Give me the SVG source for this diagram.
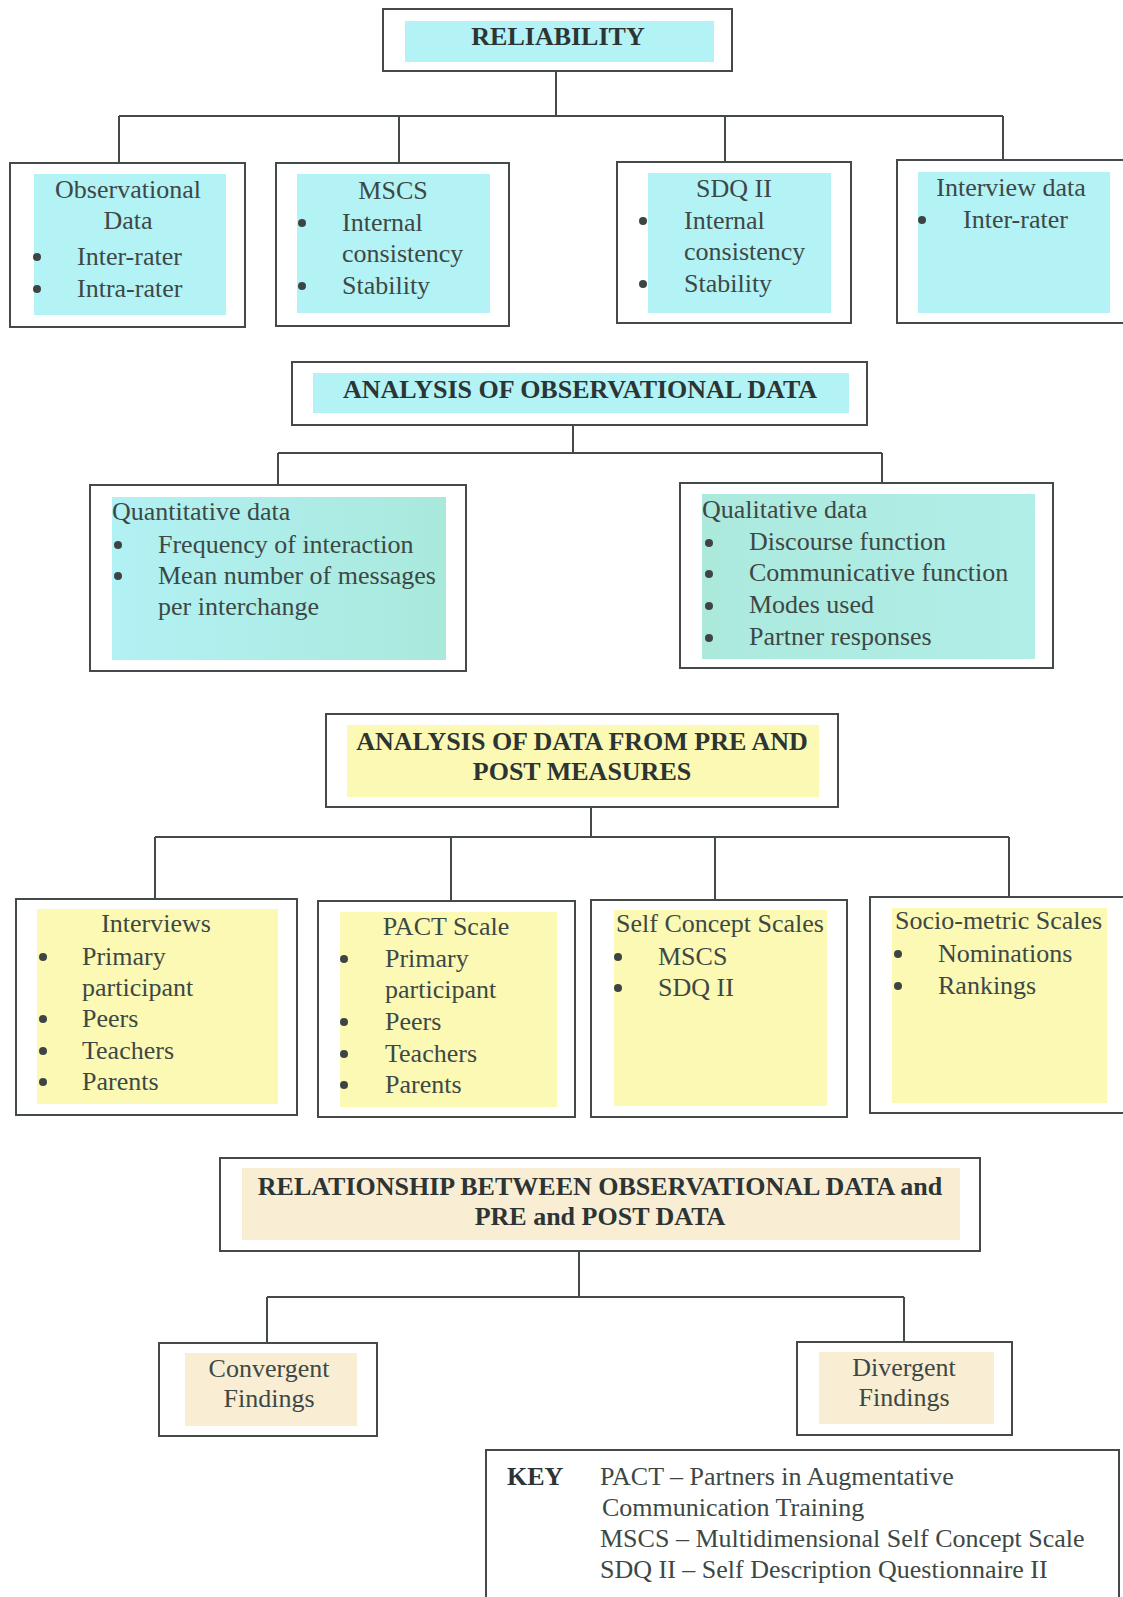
<svg xmlns="http://www.w3.org/2000/svg" width="1123" height="1597" viewBox="0 0 1123 1597">
<defs>
<linearGradient id="gq" x1="0" y1="0" x2="1" y2="0"><stop offset="0" stop-color="#b2f1f4"/><stop offset="1" stop-color="#a9e9dc"/></linearGradient>
<linearGradient id="gl" x1="0" y1="0" x2="1" y2="0"><stop offset="0" stop-color="#ace9dd"/><stop offset="1" stop-color="#b0eee8"/></linearGradient>
<style>
.box{fill:#ffffff;stroke:#444a4a;stroke-width:2}
.cy{fill:#b3f2f5}
.ye{fill:#fbf9b4}
.be{fill:#f9edd3}
text{font-family:"Liberation Serif","Times New Roman",serif;font-size:26px;fill:#3d4845}
.t{font-weight:bold;fill:#2c3434}
.c{text-anchor:middle}
.b{fill:#3e4444}
.ln{fill:none;stroke:#444a4a;stroke-width:2}
</style>
</defs>
<rect width="1123" height="1597" fill="#ffffff"/>

<g id="connectors" class="ln">
<path d="M556 71V116M119 116H1003M119 116V163M399 116V163M725 116V162M1003 116V160"/>
<path d="M573 425V453M278 453H882M278 453V485M882 453V483"/>
<path d="M591 807V837M155 837H1009M155 837V899M451 837V901M715 837V900M1009 837V897"/>
<path d="M579 1251V1297M267 1297H904M267 1297V1343M904 1297V1342"/>
</g>

<g id="reliability">
<rect class="box" x="383" y="9" width="349" height="62"/>
<rect class="cy" x="405" y="21" width="309" height="41"/>
<text class="t c" x="558" y="45">RELIABILITY</text>
</g>

<g id="observational-data">
<rect class="box" x="10" y="163" width="235" height="164"/>
<rect class="cy" x="34" y="174" width="192" height="141"/>
<text class="c" x="128" y="198">Observational</text>
<text class="c" x="128" y="229">Data</text>
<circle class="b" cx="37" cy="257" r="4"/><text x="77" y="265">Inter-rater</text>
<circle class="b" cx="37" cy="289" r="4"/><text x="77" y="297">Intra-rater</text>
</g>

<g id="mscs">
<rect class="box" x="276" y="163" width="233" height="163"/>
<rect class="cy" x="297" y="174" width="193" height="139"/>
<text class="c" x="393" y="199">MSCS</text>
<circle class="b" cx="302" cy="223" r="4"/><text x="342" y="231">Internal</text>
<text x="342" y="262">consistency</text>
<circle class="b" cx="302" cy="286" r="4"/><text x="342" y="294">Stability</text>
</g>

<g id="sdq2">
<rect class="box" x="617" y="162" width="234" height="161"/>
<rect class="cy" x="648" y="173" width="183" height="140"/>
<text class="c" x="734" y="197">SDQ II</text>
<circle class="b" cx="643" cy="221" r="4"/><text x="684" y="229">Internal</text>
<text x="684" y="260">consistency</text>
<circle class="b" cx="643" cy="284" r="4"/><text x="684" y="292">Stability</text>
</g>

<g id="interview-data">
<rect class="box" x="897" y="160" width="240" height="163"/>
<rect class="cy" x="918" y="172" width="192" height="141"/>
<text class="c" x="1011" y="196">Interview data</text>
<circle class="b" cx="922" cy="220" r="4"/><text x="963" y="228">Inter-rater</text>
</g>

<g id="analysis-observational">
<rect class="box" x="292" y="362" width="575" height="63"/>
<rect class="cy" x="313" y="373" width="536" height="40"/>
<text class="t c" x="580" y="398">ANALYSIS OF OBSERVATIONAL DATA</text>
</g>

<g id="quantitative">
<rect class="box" x="90" y="485" width="376" height="186"/>
<rect fill="url(#gq)" x="112" y="497" width="334" height="163"/>
<text x="112" y="520">Quantitative data</text>
<circle class="b" cx="118" cy="545" r="4"/><text x="158" y="553">Frequency of interaction</text>
<circle class="b" cx="118" cy="576" r="4"/><text x="158" y="584">Mean number of messages</text>
<text x="158" y="615">per interchange</text>
</g>

<g id="qualitative">
<rect class="box" x="680" y="483" width="373" height="185"/>
<rect fill="url(#gl)" x="702" y="494" width="333" height="165"/>
<text x="702" y="518">Qualitative data</text>
<circle class="b" cx="709" cy="543" r="4"/><text x="749" y="550">Discourse function</text>
<circle class="b" cx="709" cy="574" r="4"/><text x="749" y="581">Communicative function</text>
<circle class="b" cx="709" cy="606" r="4"/><text x="749" y="613">Modes used</text>
<circle class="b" cx="709" cy="638" r="4"/><text x="749" y="645">Partner responses</text>
</g>

<g id="analysis-pre-post">
<rect class="box" x="326" y="714" width="512" height="93"/>
<rect class="ye" x="347" y="725" width="472" height="72"/>
<text class="t c" x="582" y="750">ANALYSIS OF DATA FROM PRE AND</text>
<text class="t c" x="582" y="780">POST MEASURES</text>
</g>

<g id="interviews">
<rect class="box" x="16" y="899" width="281" height="216"/>
<rect class="ye" x="37" y="909" width="241" height="195"/>
<text class="c" x="156" y="932">Interviews</text>
<circle class="b" cx="43" cy="957" r="4"/><text x="82" y="965">Primary</text>
<text x="82" y="996">participant</text>
<circle class="b" cx="43" cy="1019" r="4"/><text x="82" y="1027">Peers</text>
<circle class="b" cx="43" cy="1051" r="4"/><text x="82" y="1059">Teachers</text>
<circle class="b" cx="43" cy="1082" r="4"/><text x="82" y="1090">Parents</text>
</g>

<g id="pact-scale">
<rect class="box" x="318" y="901" width="257" height="216"/>
<rect class="ye" x="340" y="912" width="217" height="195"/>
<text class="c" x="446" y="935">PACT Scale</text>
<circle class="b" cx="344" cy="959" r="4"/><text x="385" y="967">Primary</text>
<text x="385" y="998">participant</text>
<circle class="b" cx="344" cy="1022" r="4"/><text x="385" y="1030">Peers</text>
<circle class="b" cx="344" cy="1054" r="4"/><text x="385" y="1062">Teachers</text>
<circle class="b" cx="344" cy="1085" r="4"/><text x="385" y="1093">Parents</text>
</g>

<g id="self-concept-scales">
<rect class="box" x="591" y="900" width="256" height="217"/>
<rect class="ye" x="614" y="910" width="213" height="196"/>
<text x="616" y="932">Self Concept Scales</text>
<circle class="b" cx="618" cy="957" r="4"/><text x="658" y="965">MSCS</text>
<circle class="b" cx="618" cy="988" r="4"/><text x="658" y="996">SDQ II</text>
</g>

<g id="socio-metric-scales">
<rect class="box" x="870" y="897" width="265" height="216"/>
<rect class="ye" x="892" y="908" width="215" height="195"/>
<text x="895" y="929">Socio-metric Scales</text>
<circle class="b" cx="898" cy="954" r="4"/><text x="938" y="962">Nominations</text>
<circle class="b" cx="898" cy="986" r="4"/><text x="938" y="994">Rankings</text>
</g>

<g id="relationship">
<rect class="box" x="220" y="1158" width="760" height="93"/>
<rect class="be" x="242" y="1168" width="718" height="72"/>
<text class="t c" x="600" y="1195">RELATIONSHIP BETWEEN OBSERVATIONAL DATA and</text>
<text class="t c" x="600" y="1225">PRE and POST DATA</text>
</g>

<g id="convergent">
<rect class="box" x="159" y="1343" width="218" height="93"/>
<rect class="be" x="185" y="1353" width="172" height="73"/>
<text class="c" x="269" y="1377">Convergent</text>
<text class="c" x="269" y="1407">Findings</text>
</g>

<g id="divergent">
<rect class="box" x="797" y="1342" width="215" height="93"/>
<rect class="be" x="819" y="1352" width="175" height="72"/>
<text class="c" x="904" y="1376">Divergent</text>
<text class="c" x="904" y="1406">Findings</text>
</g>

<g id="key">
<rect class="box" x="486" y="1450" width="633" height="170"/>
<text class="t" x="507" y="1485">KEY</text>
<text x="600" y="1485">PACT – Partners in Augmentative</text>
<text x="602" y="1516">Communication Training</text>
<text x="600" y="1547">MSCS – Multidimensional Self Concept Scale</text>
<text x="600" y="1578">SDQ II – Self Description Questionnaire II</text>
</g>
</svg>
